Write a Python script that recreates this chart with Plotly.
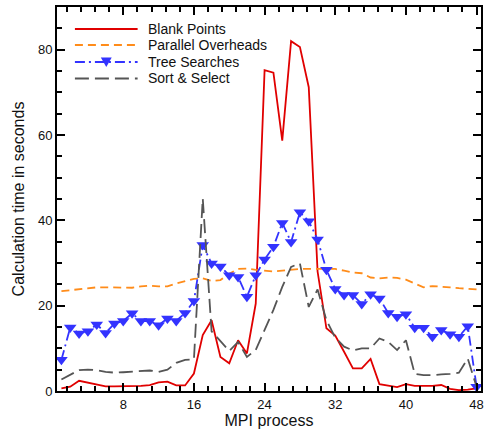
import plotly.graph_objects as go

# MPI process ranks
process = list(range(1, 49))

series_names = ["Blank Points", "Parallel Overheads", "Tree Searches", "Sort & Select"]

blank_points = [0.6, 1.0, 2.4, 2.0, 1.6, 1.1, 1.1, 1.1, 1.1, 1.2,
                1.4, 2.0, 2.2, 1.3, 1.3, 4.1, 13.1, 16.6, 8.0, 6.5,
                11.9, 8.8, 20.5, 75.2, 74.6, 58.7, 82.0, 80.6, 71.2, 28.0,
                14.7, 13.0, 9.2, 5.3, 5.3, 7.5, 1.6, 1.2, 0.9, 1.6,
                1.2, 1.2, 1.2, 1.4, 0.5, 0.2, 0.3, 0.6]

parallel_overheads = [23.4, 23.6, 23.9, 24.1, 24.3, 24.3, 24.3, 24.2, 24.2, 24.5,
                      24.7, 24.5, 24.5, 25.2, 25.7, 26.3, 26.4, 25.8, 26.0, 27.5,
                      28.6, 28.7, 28.4, 28.2, 28.0, 28.2, 28.4, 28.6, 28.6, 28.6,
                      28.7, 28.6, 28.2, 27.8, 27.6, 26.6, 26.4, 26.6, 26.5, 26.1,
                      25.2, 24.3, 24.6, 24.5, 24.3, 24.1, 23.9, 23.8]

tree_searches = [7.3, 14.9, 13.5, 14.0, 15.6, 13.6, 15.8, 16.4, 18.2, 16.4,
                 16.4, 15.4, 17.0, 16.4, 18.3, 21.1, 34.2, 29.9, 29.2, 27.1,
                 26.7, 22.1, 27.1, 30.8, 33.8, 39.4, 34.9, 41.9, 39.8, 35.5,
                 28.4, 23.9, 22.5, 22.5, 20.4, 22.7, 21.7, 18.3, 17.4, 18.0,
                 14.8, 14.8, 12.7, 14.3, 13.3, 12.7, 15.2, 1.0]

sort_select = [2.7, 3.8, 4.9, 5.0, 4.9, 4.5, 4.3, 4.4, 4.5, 4.7,
               4.8, 4.5, 5.0, 6.6, 7.3, 7.4, 45.1, 14.0, 11.8, 9.4,
               11.5, 8.0, 9.6, 14.3, 19.0, 24.4, 29.1, 29.9, 19.7, 23.8,
               16.6, 12.5, 10.4, 9.5, 10.0, 10.0, 12.3, 11.5, 9.6, 11.9,
               4.0, 3.7, 3.7, 3.9, 4.0, 4.3, 7.6, 1.0]

colors = ["#e00000", "#ff8c1a", "#3333ff", "#555555"]
dashes = ["solid", "8px,5px", "10px,4px,2px,4px", "14px,6px"]

fig = go.Figure()
for name, vals, col, dash in zip(series_names,
                                 [blank_points, parallel_overheads, tree_searches, sort_select],
                                 colors, dashes):
    is_tree = name == "Tree Searches"
    fig.add_trace(go.Scatter(
        x=process, y=vals, name=name,
        mode="lines+markers" if is_tree else "lines",
        line=dict(color=col, width=1.8, dash=dash),
        marker=dict(symbol="triangle-down", size=11, color=col) if is_tree else None,
        showlegend=False,
    ))

# Hand-drawn legend block in the upper left of the plot area
L, R, T, B = 57, 483, 7, 391
def px(x):
    return (x - L) / (R - L)
def py(y):
    return (B - y) / (B - T)

row_y = [29, 45, 62, 78.5]
for name, col, dash, yy in zip(series_names, colors, dashes, row_y):
    fig.add_shape(type="line", xref="paper", yref="paper",
                  x0=px(75), x1=px(138), y0=py(yy), y1=py(yy),
                  line=dict(color=col, width=1.8, dash=dash))
    fig.add_annotation(xref="paper", yref="paper", x=px(146), y=py(yy),
                       text=name, showarrow=False, xanchor="left", yanchor="middle",
                       font=dict(size=14, color="#111"))
    if name == "Tree Searches":
        cx, cy = 106.5, yy
        fig.add_shape(type="path", xref="paper", yref="paper",
                      path=f"M {px(cx-5.5)} {py(cy-4.5)} L {px(cx+5.5)} {py(cy-4.5)} L {px(cx)} {py(cy+5)} Z",
                      fillcolor=col, line=dict(color=col, width=0))

axis_common = dict(
    showline=True, linecolor="black", linewidth=2, mirror="ticks",
    ticks="inside", ticklen=8, tickwidth=2, tickcolor="black",
    showgrid=False, zeroline=False,
    tickfont=dict(size=13, color="#111", family="Liberation Sans, Arial, sans-serif"),
)

fig.update_xaxes(range=[0.5, 48.5], tick0=0, dtick=8,
                 minor=dict(ticks="inside", ticklen=5, tickwidth=1.5, tickcolor="black", dtick=1.6, tick0=0),
                 title=dict(text="MPI process", font=dict(size=16, color="#111"), standoff=4),
                 **axis_common)
fig.update_yaxes(range=[0, 90], tick0=0, dtick=20,
                 minor=dict(ticks="inside", ticklen=5, tickwidth=1.5, tickcolor="black", dtick=5),
                 title=dict(text="Calculation time in seconds", font=dict(size=16, color="#111"), standoff=9),
                 **axis_common)

fig.update_layout(
    width=485, height=435,
    margin=dict(l=L, r=485 - R, t=T, b=435 - B),
    plot_bgcolor="white", paper_bgcolor="white",
    font=dict(family="Liberation Sans, Arial, sans-serif", color="#111"),
)

fig.write_html("out.html")
